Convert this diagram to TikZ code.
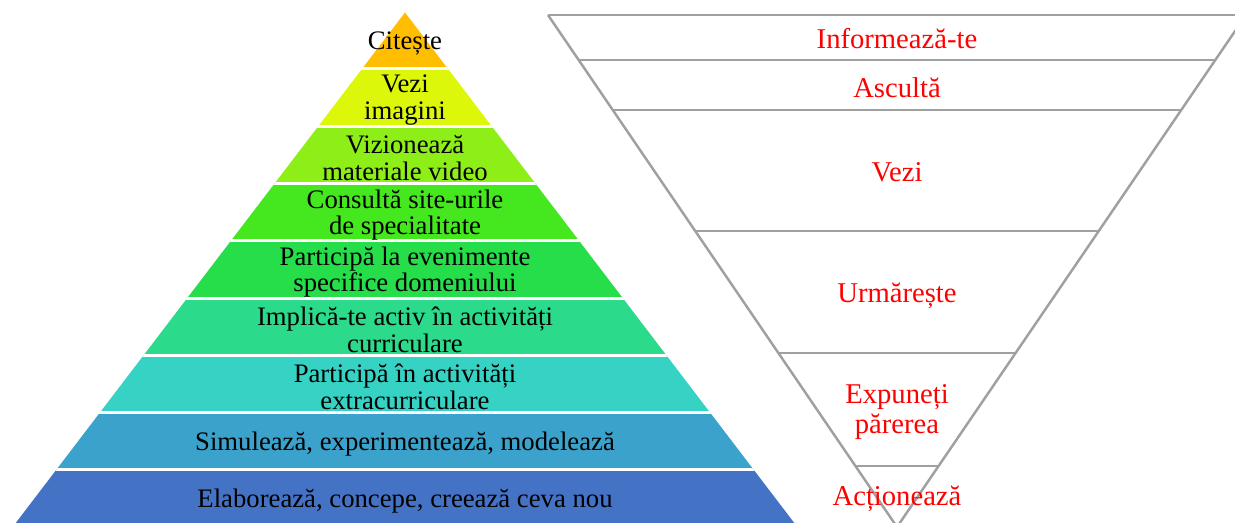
\documentclass[tikz,border=0pt]{standalone}
\usepackage{fontspec}
\setmainfont{Liberation Serif}
\usetikzlibrary{positioning}
\usepackage{xcolor}
\definecolor{lvlA}{RGB}{255,190,0}
\definecolor{lvlB}{RGB}{221,247,10}
\definecolor{lvlC}{RGB}{142,239,24}
\definecolor{lvlD}{RGB}{69,232,31}
\definecolor{lvlE}{RGB}{38,222,74}
\definecolor{lvlF}{RGB}{43,218,138}
\definecolor{lvlG}{RGB}{54,211,197}
\definecolor{lvlH}{RGB}{59,163,203}
\definecolor{lvlI}{RGB}{68,114,196}
\definecolor{funnelgray}{RGB}{160,160,160}

\begin{document}
\begin{tikzpicture}[x=0.02cm,y=-0.02cm,
  lbl/.style={align=center,inner sep=0pt,font=\fontsize{15.2}{15}\selectfont},
  redlbl/.style={lbl,text=red,font=\fontsize{16.3}{17.5}\selectfont},
  funnel/.style={draw=funnelgray,line width=1.4pt}]
\useasboundingbox (0,0) rectangle (1235,522);
\clip (0,0) rectangle (1235,522);
% pyramid
\begin{scope}
  \clip (405,12.5) -- (12.5,527.2) -- (797.5,527.2) -- cycle;
  \foreach \c [count=\i from 0] in {lvlA,lvlB,lvlC,lvlD,lvlE,lvlF,lvlG,lvlH,lvlI}
    \fill[\c] (0,{11.5+57.3*\i}) rectangle (1235,{11.5+57.3*(\i+1)});
  \foreach \i in {1,...,8}
    \draw[white,line width=1.7pt] (0,{11.5+57.3*\i}) -- (1235,{11.5+57.3*\i});
\end{scope}
\path
  (405,43) node [lbl] (citeste) {Citește}
  (405,100) node [lbl] (imagini) {Vezi\\imagini}
  (405,158) node [lbl] (video) {Vizionează\\materiale video}
  (405,215) node [lbl] (siteuri) {Consultă site-urile\\de specialitate}
  (405,272) node [lbl] (evenimente) {Participă la evenimente\\specifice domeniului}
  (405,330) node [lbl] (curriculare) {Implică-te activ în activități\\curriculare}
  (405,387) node [lbl] (extra) {Participă în activități\\extracurriculare}
  (405,444) node [lbl] (simuleaza) {Simulează, experimentează, modelează}
  (405,501) node [lbl] (elaboreaza) {Elaborează, concepe, creează ceva nou};
% funnel
\draw[funnel] (548,15) -- (897,527) -- (1246,15);
\foreach \y in {15,60,110,231,353,466}
  \draw[funnel] ({897-0.6816*(527-\y)},\y) -- ({897+0.6816*(527-\y)},\y);
\path
  (897,39) node [redlbl] (informeaza) {Informează-te}
  (897,88) node [redlbl] (asculta) {Ascultă}
  (897,172) node [redlbl] (vezi) {Vezi}
  (897,296) node [redlbl] (urmareste) {Urmărește}
  (897,412) node [redlbl] (expune) {Expuneți\\părerea}
  (897,499) node [redlbl] (actioneaza) {Acționează};
\end{tikzpicture}
\end{document}
